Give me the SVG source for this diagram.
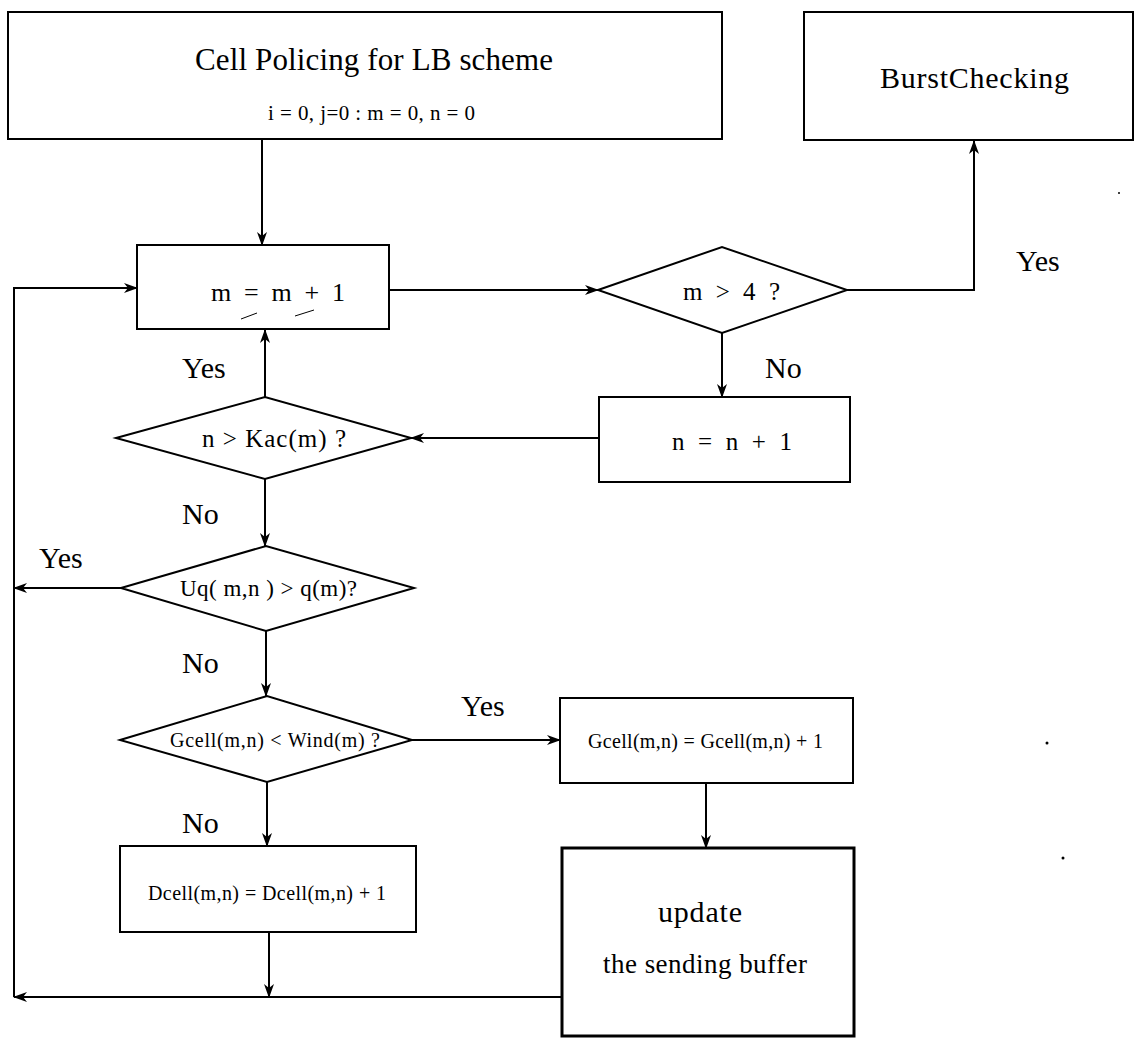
<svg xmlns="http://www.w3.org/2000/svg" width="1136" height="1042" viewBox="0 0 1136 1042">
<defs>
<marker id="arr" viewBox="0 0 14 10" refX="13" refY="5" markerWidth="14" markerHeight="10" markerUnits="userSpaceOnUse" orient="auto">
<path d="M0,0 L14,5 L0,10 L4,5 Z" fill="#000"/>
</marker>
<style>
.box{fill:#fff;stroke:#000;stroke-width:2}
.thick{fill:#fff;stroke:#000;stroke-width:3}
.dia{fill:#fff;stroke:#000;stroke-width:2;stroke-linejoin:miter}
.ca{fill:none;stroke:#000;stroke-width:2;marker-end:url(#arr)}
text{font-family:"Liberation Serif","Times New Roman",serif;fill:#000}
.lbl{font-size:30px}
</style>
</defs>
<rect width="1136" height="1042" fill="#fff"/>

<g id="connectors">
<path class="ca" d="M262,139 V245"/>
<path class="ca" d="M389,290 H598"/>
<path class="ca" d="M847,290 H974 V141"/>
<path class="ca" d="M722,333 V397"/>
<path class="ca" d="M599,438 H411"/>
<path class="ca" d="M265,397 V330"/>
<path class="ca" d="M265,479 V546"/>
<path class="ca" d="M121,588 H14"/>
<path class="ca" d="M266,631 V696"/>
<path class="ca" d="M412,740 H560"/>
<path class="ca" d="M267,782 V846"/>
<path class="ca" d="M706,783 V848"/>
<path class="ca" d="M269,932 V997"/>
<path class="ca" d="M562,997 H14"/>
<path class="ca" d="M14,997 V288 H137"/>
</g>

<g id="start">
<rect class="box" x="8" y="12" width="714" height="127"/>
<text x="195" y="70" font-size="31" textLength="358">Cell Policing for LB scheme</text>
<text x="268" y="120" font-size="21" textLength="207">i = 0, j=0 : m = 0, n = 0</text>
</g>

<g id="burst">
<rect class="box" x="804" y="12" width="329" height="128"/>
<text x="880" y="88" font-size="30" textLength="189">BurstChecking</text>
</g>

<g id="inc-m">
<rect class="box" x="137" y="245" width="252" height="84"/>
<text x="211" y="301" font-size="26" textLength="134">m = m + 1</text>
<path d="M241,319 L257,313 M295,316 L314,310" fill="none" stroke="#000" stroke-width="1"/>
</g>

<g id="dec-m4">
<polygon class="dia" points="598,290 722,247 847,290 722,333"/>
<text x="683" y="300" font-size="25" textLength="97">m &gt; 4 ?</text>
</g>

<g id="inc-n">
<rect class="box" x="599" y="397" width="251" height="85"/>
<text x="672" y="450" font-size="25" textLength="120">n = n + 1</text>
</g>

<g id="dec-kac">
<polygon class="dia" points="116,438 265,397 411,438 265,479"/>
<text x="202" y="447" font-size="25" textLength="144">n &gt; Kac(m) ?</text>
</g>

<g id="dec-uq">
<polygon class="dia" points="121,588 266,546 414,588 266,631"/>
<text x="180" y="596" font-size="23" textLength="177">Uq( m,n ) &gt; q(m)?</text>
</g>

<g id="dec-gcell">
<polygon class="dia" points="120,740 267,696 412,740 267,782"/>
<text x="170" y="747" font-size="20" textLength="210">Gcell(m,n) &lt; Wind(m)  ?</text>
</g>

<g id="inc-gcell">
<rect class="box" x="560" y="698" width="293" height="85"/>
<text x="588" y="748" font-size="20" textLength="235">Gcell(m,n) = Gcell(m,n) + 1</text>
</g>

<g id="inc-dcell">
<rect class="box" x="120" y="846" width="296" height="86"/>
<text x="148" y="900" font-size="20" textLength="238">Dcell(m,n) = Dcell(m,n) + 1</text>
</g>

<g id="update">
<rect class="thick" x="562" y="848" width="292" height="188"/>
<text x="658" y="922" font-size="30" textLength="84">update</text>
<text x="603" y="973" font-size="27" textLength="204">the sending buffer</text>
</g>

<g id="labels" class="lbl">
<text x="1016" y="271">Yes</text>
<text x="765" y="378">No</text>
<text x="182" y="378">Yes</text>
<text x="182" y="524">No</text>
<text x="39" y="568">Yes</text>
<text x="182" y="673">No</text>
<text x="461" y="716">Yes</text>
<text x="182" y="833">No</text>
</g>

<g id="specks" fill="#000">
<circle cx="1119" cy="193" r="1"/>
<circle cx="1047" cy="743" r="1.5"/>
<circle cx="1063" cy="858" r="1.5"/>
</g>
</svg>
